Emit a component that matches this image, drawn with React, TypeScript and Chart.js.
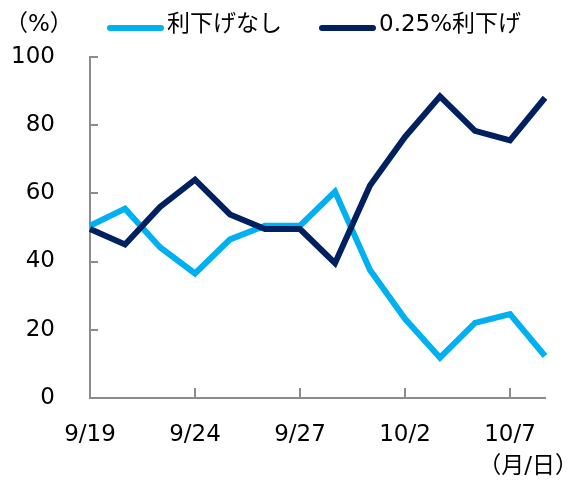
import React, { useEffect, useRef } from "react";
import { Chart, registerables } from "chart.js";

Chart.register(...registerables);

const dates = ["9/19", "9/20", "9/23", "9/24", "9/25", "9/26", "9/27", "9/30", "10/1", "10/2", "10/3", "10/4", "10/7", "10/8"];
const noCut = [50.5, 55.5, 44.2, 36.5, 46.5, 50.5, 50.5, 60.5, 37.5, 23.2, 11.8, 22, 24.6, 12.3];
const cut25 = [49.5, 45, 56, 64, 53.8, 49.5, 49.5, 39.5, 62.3, 76.5, 88.4, 78.3, 75.5, 88];
const seriesNames = ["利下げなし", "0.25%利下げ"];
const seriesColors = ["#00B0F0", "#002060"];
const yTicks = [0, 20, 40, 60, 80, 100];
const yUnit = "（%）";
const xUnit = "（月/日）";

const FONT = '"DejaVu Sans", "Noto Sans CJK JP", sans-serif';
const FS = 23;
const AXIS = "#8c8c8c";

const overlay = {
  id: "overlay",
  afterDraw(chart: any) {
    const ctx = chart.ctx;
    ctx.save();
    ctx.font = `${FS}px ${FONT}`;
    ctx.fillStyle = "#000";
    ctx.textBaseline = "middle";
    ctx.textAlign = "left";
    ctx.fillText(yUnit, 5, 25);
    // legend
    let x = 107;
    chart.data.datasets.forEach((ds: any) => {
      ctx.strokeStyle = ds.borderColor;
      ctx.lineWidth = 6;
      ctx.lineCap = "round";
      ctx.beginPath();
      ctx.moveTo(x + 3, 28);
      ctx.lineTo(x + 54, 28);
      ctx.stroke();
      ctx.fillStyle = "#000";
      ctx.fillText(ds.label, x + 60, 25);
      x += 60 + ctx.measureText(ds.label).width + 37;
    });
    ctx.textAlign = "right";
    ctx.fillText(xUnit, 578, 467);
    ctx.restore();
  },
};

export default function App() {
  const ref = useRef<HTMLCanvasElement | null>(null);
  useEffect(() => {
    if (!ref.current) return;
    const chart = new Chart(ref.current, {
      type: "line",
      data: {
        labels: dates,
        datasets: [
          {
            label: seriesNames[0],
            data: noCut,
            borderColor: seriesColors[0],
            backgroundColor: seriesColors[0],
            borderWidth: 6,
            pointRadius: 0,
            tension: 0,
            order: 1,
          },
          {
            label: seriesNames[1],
            data: cut25,
            borderColor: seriesColors[1],
            backgroundColor: seriesColors[1],
            borderWidth: 6,
            pointRadius: 0,
            tension: 0,
            order: 0,
          },
        ],
      },
      options: {
        responsive: false,
        animation: false,
        layout: { padding: { top: 54, right: 36, left: 0, bottom: 0 } },
        plugins: { legend: { display: false }, tooltip: { enabled: false } },
        scales: {
          x: {
            type: "category",
            offset: false,
            afterFit(scale: any) {
              scale.height = 83;
            },
            grid: {
              drawOnChartArea: false,
              drawTicks: true,
              tickLength: -10,
              lineWidth: 2,
              color: (c: any) => (c.index % 3 === 0 ? AXIS : "rgba(0,0,0,0)"),
            },
            border: { display: true, color: AXIS, width: 2 },
            ticks: {
              autoSkip: false,
              maxRotation: 0,
              padding: 33,
              color: "#000",
              font: { family: FONT, size: FS },
              callback: (_v: any, i: number) => (i % 3 === 0 ? dates[i] : ""),
            },
          },
          y: {
            min: 0,
            max: 100,
            afterFit(scale: any) {
              scale.width = 90;
            },
            afterBuildTicks(scale: any) {
              scale.ticks = yTicks.map((v) => ({ value: v }));
            },
            grid: {
              drawOnChartArea: false,
              drawTicks: true,
              tickLength: -8,
              lineWidth: 2,
              color: AXIS,
            },
            border: { display: true, color: AXIS, width: 2 },
            ticks: {
              padding: 43,
              color: "#000",
              font: { family: FONT, size: FS },
            },
          },
        },
      },
      plugins: [overlay],
    });
    return () => chart.destroy();
  }, []);
  return (
    <div style={{ position: "fixed", left: 0, top: 0, width: 581, height: 481, background: "#fff" }}>
      <canvas ref={ref} width={581} height={481} style={{ display: "block" }} />
    </div>
  );
}
